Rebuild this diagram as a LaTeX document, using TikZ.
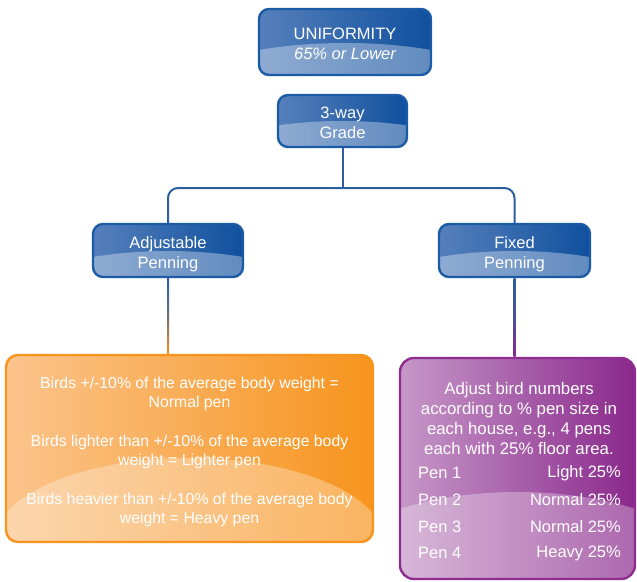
\documentclass[tikz,border=0pt]{standalone}
\usepackage{fontspec}
\setmainfont{Liberation Sans}
\usetikzlibrary{calc}
\definecolor{blueL}{RGB}{86,128,188}
\definecolor{blueR}{RGB}{16,80,158}
\definecolor{blueB}{RGB}{27,90,165}
\definecolor{connB}{RGB}{44,95,158}
\definecolor{oraL}{RGB}{251,196,140}
\definecolor{oraR}{RGB}{247,148,29}
\definecolor{oraB}{RGB}{247,148,29}
\definecolor{purL}{RGB}{198,152,200}
\definecolor{purR}{RGB}{138,40,140}
\definecolor{purB}{RGB}{142,44,143}
\tikzset{
  x=1pt, y=1pt,
  gbox/.style n args={8}{draw=#3, line width=2.4pt, rounded corners=#6,
    inner sep=0pt,
    path picture={
      \fill[left color=#1, right color=#2]
        (path picture bounding box.south west) rectangle (path picture bounding box.north east);
      \fill[white, opacity=#8]
        ([yshift=-#7]path picture bounding box.south) ellipse [x radius=#4, y radius=#5];
    }},
  bluebox/.style n args={2}{gbox={blueL}{blueR}{blueB}{#1}{#2}{10pt}{40pt}{0.34}},
  conn/.style={draw=connB, line width=2pt},
  txt/.style={text=white, inner sep=0pt, align=center},
  btxt/.style={txt, font=\fontsize{16.5}{20}\selectfont},
}
\begin{document}
\begin{tikzpicture}
\useasboundingbox (0,0) rectangle (637,-581);

\node[bluebox={200pt}{72pt}, minimum width=172pt, minimum height=66pt] (uni) at (345,-42) {};
\node[btxt] (unit) at (345,-45.5) {\strut UNIFORMITY\\\itshape\strut 65\% or Lower};
\node[bluebox={180pt}{66pt}, minimum width=129pt, minimum height=52pt] (grade) at (342.5,-121) {};
\node[btxt] (gradet) at (342.5,-124) {\strut 3-way\\\strut Grade};
\node[bluebox={180pt}{66pt}, minimum width=150pt, minimum height=53pt] (adj) at (168,-250.5) {};
\node[btxt] (adjt) at (168,-254.5) {\strut Adjustable\\\strut Penning};
\node[bluebox={180pt}{66pt}, minimum width=151pt, minimum height=53pt] (fix) at (514.5,-250.5) {};
\node[btxt] (fixt) at (514.5,-254.5) {\strut Fixed\\\strut Penning};

\node[gbox={oraL}{oraR}{oraB}{195pt}{84pt}{12pt}{0pt}{0.3}, minimum width=367pt, minimum height=187pt]
  (ora) at (189.5,-448.5) {};
\node[txt, font=\fontsize{15.8}{19}\selectfont] (orat) at (189.5,-451.5)
  {Birds +/-10\% of the average body weight =\\Normal pen\\[20pt]
   Birds lighter than +/-10\% of the average body\\weight = Lighter pen\\[20pt]
   Birds heavier than +/-10\% of the average body\\weight = Heavy pen};

\node[gbox={purL}{purR}{purB}{199pt}{87pt}{14pt}{0pt}{0.3}, minimum width=235pt, minimum height=221pt]
  (pur) at (517.5,-468.5) {};
\node[txt, font=\fontsize{16.8}{20}\selectfont] (ptext) at (519,-418)
  {Adjust bird numbers\\according to \% pen size in\\each house, e.g., 4 pens\\each with 25\% floor area.};
\begin{scope}[every node/.style={txt, font=\fontsize{16.5}{20}\selectfont}]
\node[anchor=west] (p1) at (418,-473) {Pen 1};
\node[anchor=east] (v1) at (621,-473) {Light 25\%};
\node[anchor=west] (p2) at (418,-500) {Pen 2};
\node[anchor=east] (v2) at (621,-500) {Normal 25\%};
\node[anchor=west] (p3) at (418,-527) {Pen 3};
\node[anchor=east] (v3) at (621,-527) {Normal 25\%};
\node[anchor=west] (p4) at (418,-553) {Pen 4};
\node[anchor=east] (v4) at (621,-553) {Heavy 25\%};
\end{scope}

\coordinate (bus) at (0,-188);
\draw[conn] (grade.south) -- (grade.south |- bus);
\draw[conn, rounded corners=10pt] (adj.north) -- (adj.north |- bus) -- (fix.north |- bus) -- (fix.north);

\shade[top color=connB, bottom color=oraR, middle color=connB!70!oraR]
  ([xshift=-1pt]adj.south) rectangle ([xshift=1pt]adj.south |- ora.north);
\shade[top color=connB, bottom color=purR, middle color=connB!70!purR]
  ([xshift=-1pt]fix.south) rectangle ([xshift=1pt]fix.south |- pur.north);
\end{tikzpicture}
\end{document}
